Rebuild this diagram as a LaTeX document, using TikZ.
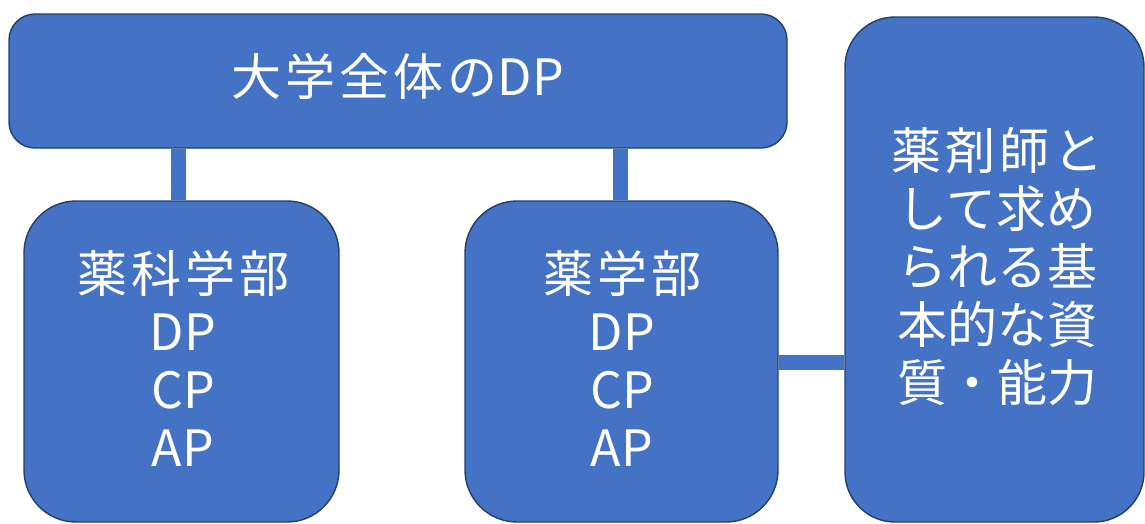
\documentclass[tikz,border=0pt]{standalone}
\usepackage{fontspec}
\usetikzlibrary{backgrounds}
\setmainfont{Noto Sans CJK JP}
\newfontfamily\cjkls{Noto Sans CJK JP}[LetterSpace=8]
\definecolor{boxfill}{HTML}{4472C4}
\definecolor{boxline}{HTML}{233F6E}
\tikzset{
  box/.style={draw=boxline, line width=1.4pt, fill=boxfill, text=white,
    align=center, inner sep=0pt, font=\fontsize{50}{58}\selectfont},
  bar/.style={draw=boxfill, line width=15pt}
}
\begin{document}
\begin{tikzpicture}[x=1pt,y=1pt]
\useasboundingbox (0,0) rectangle (1145,-523);
\coordinate (tl) at (178.5,-148);
\coordinate (tm) at (620,-148);
\coordinate (hr) at (800,-362);
\node[box, minimum width=315pt, minimum height=321pt, rounded corners=52pt] (left) at (181.5,-361.5) {};
\node[box, minimum width=313pt, minimum height=321pt, rounded corners=52pt] (mid) at (621.5,-361.5) {};
\node[box, minimum width=299pt, minimum height=505pt, rounded corners=50pt] (right) at (994.5,-269.5) {};
\node[box, minimum width=778pt, minimum height=134pt, rounded corners=26pt] (top) at (398,-81) {};
\begin{scope}[on background layer]
\draw[bar] (top.south -| tl) -- (left.north -| tl);
\draw[bar] (top.south -| tm) -- (mid.north -| tm);
\draw[bar] (mid.east |- hr) -- (right.west |- hr);
\end{scope}
\node[box, draw=none, fill=none] (ttop) at (398,-76) {{\cjkls 大学全体の}DP};
\node[box, draw=none, fill=none] (tleft) at (183,-358) {{\cjkls 薬科学部}\\DP\\CP\\AP};
\node[box, draw=none, fill=none] (tmid) at (622,-358) {{\cjkls 薬学部}\\DP\\CP\\AP};
\node[box, draw=none, fill=none] (tright) at (997,-267) {\cjkls 薬剤師と\\して求め\\られる基\\本的な資\\質・能力};
\end{tikzpicture}
\end{document}
